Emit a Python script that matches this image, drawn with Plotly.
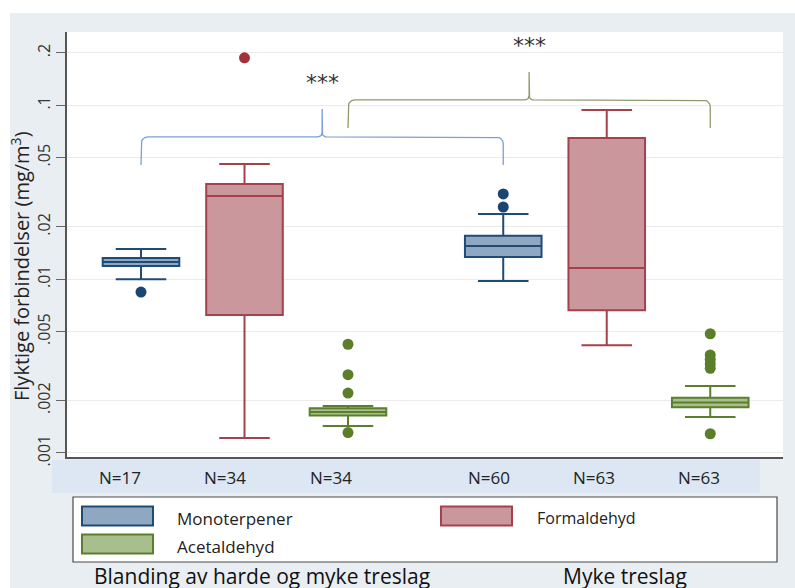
import numpy as np
import plotly.graph_objects as go

# --- data -------------------------------------------------------------
compounds = ["Monoterpener", "Formaldehyd", "Acetaldehyd"]
groups = ["Blanding av harde og myke treslag", "Myke treslag"]
positions = [0, 1, 2, 3.5, 4.5, 5.5]
box_compound = [0, 1, 2, 0, 1, 2]
n_counts = [17, 34, 34, 60, 63, 63]

q1 = [0.0119, 0.00622, 0.00164, 0.01342, 0.00662, 0.00183]
median = [0.01256, 0.0301, 0.00172, 0.01552, 0.01159, 0.00195]
q3 = [0.01324, 0.0353, 0.00181, 0.01774, 0.0649, 0.00208]
lower_whisker = [0.0100, 0.00122, 0.00143, 0.00977, 0.00417, 0.00161]
upper_whisker = [0.0149, 0.046, 0.00186, 0.0237, 0.0941, 0.00243]
outliers = [
    [0.00843],
    [0.1875],
    [0.00422, 0.00282, 0.00221, 0.00131],
    [0.0309, 0.0260],
    [],
    [0.00485, 0.00366, 0.00345, 0.00325, 0.00307, 0.00129],
]

y_ticks = [0.001, 0.002, 0.005, 0.01, 0.02, 0.05, 0.1, 0.2]
y_ticktext = [".001", ".002", ".005", ".01", ".02", ".05", ".1", ".2"]

# --- styling ----------------------------------------------------------
line_colors = ["#1f4b77", "#a6404b", "#5b7f2c"]
fill_colors = ["#8fa7c0", "#c9979c", "#a9be8d"]
dot_colors = ["#1b4572", "#a0323a", "#5a7e2a"]
brace_colors = ["#7b9fd8", "#8d9b6e"]
FONT = "Open Sans"

W, H = 795, 588
L, R, T, B = 67, 12, 32, 131
PW, PH = W - L - R, H - T - B


def px(x):
    return (x - L) / PW


def py(y):
    return (H - B - y) / PH


fig = go.Figure()
shapes = []
annotations = []

for i, pos in enumerate(positions):
    c = box_compound[i]
    fig.add_trace(go.Box(
        x=[pos], q1=[q1[i]], median=[median[i]], q3=[q3[i]],
        lowerfence=[lower_whisker[i]], upperfence=[upper_whisker[i]],
        width=0.74, whiskerwidth=0.66, boxpoints=False,
        fillcolor=fill_colors[c], line=dict(color=line_colors[c], width=2),
        showlegend=False, hoverinfo="skip",
    ))
    if outliers[i]:
        fig.add_trace(go.Scatter(
            x=[pos] * len(outliers[i]), y=outliers[i], mode="markers",
            marker=dict(size=11, color=dot_colors[c]),
            showlegend=False, hoverinfo="skip",
        ))


# curly braces linking the same compound in the two wood groups
def brace(x0, x1, y_end, y_bar, y_tip):
    ly_end, ly_bar, ly_tip = np.log10([y_end, y_bar, y_tip])
    rx, ry = 0.068, 0.040                 # end corner radius
    tx, ty = 0.04, 0.024                  # tip curve radius
    xm = (x0 + x1) / 2
    xs, ys = [x0], [ly_end]
    t = np.linspace(np.pi, np.pi / 2, 8)
    xs += list(x0 + rx + rx * np.cos(t)); ys += list(ly_bar - ry + ry * np.sin(t))
    t = np.linspace(1.5 * np.pi, 2 * np.pi, 8)
    xs += list(xm - tx + tx * np.cos(t)); ys += list(ly_bar + ty + ty * np.sin(t))
    xs += [xm]; ys += [ly_tip]
    t = np.linspace(np.pi, 1.5 * np.pi, 8)
    xs += list(xm + tx + tx * np.cos(t)); ys += list(ly_bar + ty + ty * np.sin(t))
    t = np.linspace(np.pi / 2, 0, 8)
    xs += list(x1 - rx + rx * np.cos(t)); ys += list(ly_bar - ry + ry * np.sin(t))
    xs += [x1]; ys += [ly_end]
    return xs, list(10 ** np.array(ys))


brace_spans = [(0, 3), (2, 5)]
brace_levels = [(0.0454, 0.0658, 0.0953), (0.0741, 0.1074, 0.1555)]
star_levels = [0.1345, 0.2198]
for k, (a, b) in enumerate(brace_spans):
    bx, by = brace(positions[a], positions[b], *brace_levels[k])
    fig.add_trace(go.Scatter(x=bx, y=by, mode="lines",
                             line=dict(color=brace_colors[k], width=1.3),
                             showlegend=False, hoverinfo="skip"))
    annotations.append(dict(x=(positions[a] + positions[b]) / 2, xref="x",
                            y=np.log10(star_levels[k]), yref="y", text="***",
                            xanchor="center", yanchor="middle", showarrow=False,
                            font=dict(family="DejaVu Sans", size=22, color="#333333")))

# white strips around the grey backdrop
shapes.append(dict(type="rect", xref="paper", yref="paper", x0=px(0), x1=px(W), y0=py(13), y1=py(0),
                   fillcolor="white", line=dict(width=0), layer="below"))
shapes.append(dict(type="rect", xref="paper", yref="paper", x0=px(0), x1=px(10), y0=py(H), y1=py(0),
                   fillcolor="white", line=dict(width=0), layer="below"))
# band holding the sample sizes (labels sit slightly left of each box)
shapes.append(dict(type="rect", xref="paper", yref="paper", x0=px(52), x1=px(760), y0=py(493), y1=py(460),
                   fillcolor="#dce7f3", line=dict(width=0), layer="below"))
for pos, n in zip(positions, n_counts):
    annotations.append(dict(x=pos, xref="x", y=py(478), yref="paper", text=f"N={n}", showarrow=False,
                            xanchor="center", yanchor="middle", xshift=-21 + 1.8 * pos,
                            font=dict(family=FONT, size=17, color="#222222")))

# legend box
shapes.append(dict(type="rect", xref="paper", yref="paper", x0=px(73), x1=px(777), y0=py(562), y1=py(497),
                   fillcolor="white", line=dict(color="#4a4a4a", width=1.2), layer="above"))
legend_items = [(0, 82, 516, 175, 17), (2, 82, 544, 175, 17), (1, 441, 516, 535, 16)]
for c, sx, sy, tx, fs in legend_items:
    shapes.append(dict(type="rect", xref="paper", yref="paper", x0=px(sx), x1=px(sx + 71),
                       y0=py(sy + 9.5), y1=py(sy - 9.5), fillcolor=fill_colors[c],
                       line=dict(color=line_colors[c], width=2), layer="above"))
    annotations.append(dict(x=px(tx), y=py(sy + 2), xref="paper", yref="paper",
                            xanchor="left", yanchor="middle",
                            text=compounds[c], showarrow=False,
                            font=dict(family=FONT, size=fs, color="#222222")))

# group labels along the bottom edge
group_centers = [262, 625]
for g, cx in zip(groups, group_centers):
    annotations.append(dict(x=px(cx), y=py(576), xref="paper", yref="paper", text=g, showarrow=False,
                            xanchor="center", yanchor="middle",
                            font=dict(family=FONT, size=21, color="#111111")))

# y title
annotations.append(dict(x=px(20), y=py(266), xref="paper", yref="paper", textangle=-90,
                        xanchor="center", yanchor="middle",
                        text="Flyktige forbindelser (mg/m<sup>3</sup>)", showarrow=False,
                        font=dict(family=FONT, size=20, color="#222222")))

fig.update_layout(
    width=W, height=H,
    margin=dict(l=L, r=R, t=T, b=B, pad=0),
    paper_bgcolor="#e9eef2", plot_bgcolor="white",
    shapes=shapes, annotations=annotations,
    showlegend=False,
    xaxis=dict(range=[-0.715, 6.203], showgrid=False, zeroline=False, showticklabels=False,
               ticks="", showline=True, linecolor="#555555", linewidth=1.5),
    yaxis=dict(type="log", range=[np.log10(0.000948), np.log10(0.264)],
               tickvals=y_ticks, ticktext=y_ticktext, tickangle=-90,
               ticks="outside", ticklen=9, tickcolor="#666666", tickwidth=1,
               tickfont=dict(family=FONT, size=16, color="#333333"),
               showgrid=True, gridcolor="#ebebeb", gridwidth=1, zeroline=False,
               showline=True, linecolor="#555555", linewidth=1.5),
)

fig.write_html("out.html")
